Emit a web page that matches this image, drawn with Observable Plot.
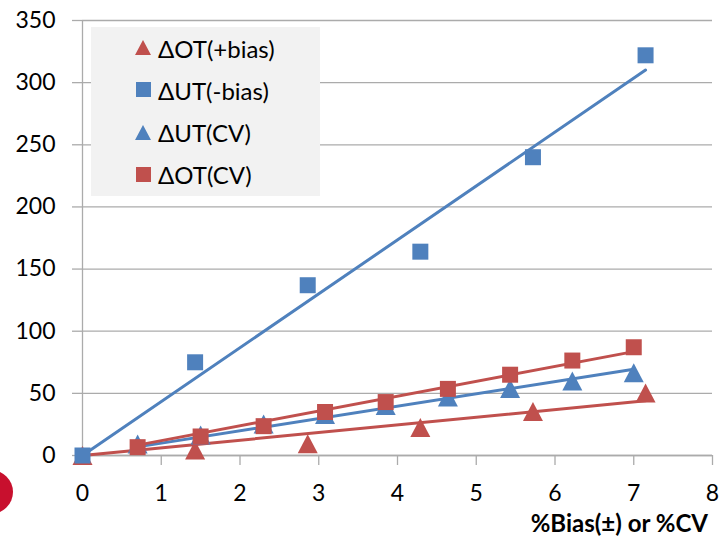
<!DOCTYPE html>
<html>
<head>
<meta charset="utf-8">
<script src="https://cdn.jsdelivr.net/npm/d3@7"></script>
<script src="https://cdn.jsdelivr.net/npm/@observablehq/plot@0.6"></script>
<style>
  html, body { margin: 0; padding: 0; background: #fff; }
  #wrap { position: relative; width: 719px; height: 541px; overflow: hidden; font-family: Lato, "Open Sans", sans-serif; color: #000; }
  #legend { position: absolute; left: 91px; top: 27px; width: 229px; height: 169px; background: #f2f2f2; }
  .row { position: absolute; left: 0; height: 30px; display: flex; align-items: center; }
  .row svg { position: absolute; left: 44px; }
  .row span { position: absolute; left: 67px; font-size: 24px; white-space: nowrap; }
  #xlabel { position: absolute; right: 11px; top: 511px; font-size: 24px; line-height: 1; font-weight: bold; white-space: nowrap; }
  #blob { position: absolute; left: -32px; top: 470px; width: 45px; height: 44px; border-radius: 50%; background: #c8102e; }
</style>
</head>
<body>
<div id="wrap"></div>
<script>
// ---- data ----
const seriesNames = ["ΔOT(+bias)", "ΔUT(-bias)", "ΔUT(CV)", "ΔOT(CV)"];
const seriesColors = ["#c0504d", "#4f81bd", "#4f81bd", "#c0504d"];
const seriesShapes = ["triangle", "square", "triangle", "square"];

const xBias = [0, 1.43, 2.86, 4.29, 5.72, 7.15];
const otBias = [0, 4.4, 9.4, 22.5, 35.5, 50.3];
const utBias = [0, 75, 137, 164, 240, 322];

const xUtCV = [0.7, 1.5, 2.3, 3.08, 3.85, 4.64, 5.43, 6.22, 7.0];
const utCV = [9.3, 16.5, 25.3, 33, 40.2, 47, 54, 60, 66.5];

const xOtCV = [0.7, 1.5, 2.3, 3.08, 3.85, 4.64, 5.43, 6.22, 7.0];
const otCV = [6.7, 15.3, 23.6, 35, 43, 53.6, 65, 76.4, 87.1];

const xTicks = [0, 1, 2, 3, 4, 5, 6, 7, 8];
const yTicks = [0, 50, 100, 150, 200, 250, 300, 350];
const xTitle = "%Bias(±) or %CV";

// ---- build table ----
const xs = [xBias, xBias, xUtCV, xOtCV];
const ys = [otBias, utBias, utCV, otCV];
const series = seriesNames.map((name, i) => ({
  name, color: seriesColors[i], shape: seriesShapes[i],
  points: xs[i].map((x, j) => ({x, y: ys[i][j], name}))
}));

// linear trendline through the origin (least squares)
function trend(points) {
  const sxy = d3.sum(points, p => p.x * p.y);
  const sxx = d3.sum(points, p => p.x * p.x);
  const k = sxy / sxx;
  const [x0, x1] = d3.extent(points, p => p.x);
  return [{x: x0, y: k * x0}, {x: x1, y: k * x1}];
}

// bbox-centred symbols (Excel style)
const tri = (w, h) => ({draw(ctx) { ctx.moveTo(0, -h / 2); ctx.lineTo(w / 2, h / 2); ctx.lineTo(-w / 2, h / 2); ctx.closePath(); }});
const sq = (s) => ({draw(ctx) { ctx.rect(-s / 2, -s / 2, s, s); }});
const symFor = shape => shape === "triangle" ? tri(20, 19) : sq(16);

const gridColor = "#ababab";

const plot = Plot.plot({
  width: 719,
  height: 541,
  marginLeft: 82,
  marginRight: 7,
  marginTop: 20,
  marginBottom: 86,
  style: {fontFamily: "Lato, 'Open Sans', sans-serif", fontSize: "23px", color: "#000", background: "#fff"},
  x: {domain: [0, 8]},
  y: {domain: [0, 350]},
  marks: [
    Plot.gridY(yTicks, {stroke: gridColor, strokeOpacity: 1, strokeWidth: 1.3}),
    Plot.axisY(yTicks, {tickSize: 10, tickPadding: 17, stroke: gridColor, strokeWidth: 1.3, fontSize: 23, label: null}),
    Plot.axisX(xTicks, {tickSize: 10, tickPadding: 19, stroke: gridColor, strokeWidth: 1.3, fontSize: 23, label: null}),
    Plot.ruleX([0], {stroke: gridColor, strokeWidth: 1.3}),
    Plot.ruleY([0], {stroke: gridColor, strokeWidth: 1.3}),
    ...series.map(s => Plot.line(trend(s.points), {x: "x", y: "y", stroke: s.color, strokeWidth: 3})),
    ...series.map(s => Plot.dot(s.points, {x: "x", y: "y", fill: s.color, stroke: "none", symbol: symFor(s.shape), r: 8}))
  ]
});

const wrap = document.getElementById("wrap");
wrap.appendChild(plot);

// legend
const legend = document.createElement("div");
legend.id = "legend";
series.forEach((s, i) => {
  const row = document.createElement("div");
  row.className = "row";
  row.style.top = (6 + i * 42.3) + "px";
  const shape = s.shape === "triangle"
    ? `<polygon points="8,0 16,15 0,15" fill="${s.color}"/>`
    : `<rect x="1" y="0" width="15" height="15" fill="${s.color}"/>`;
  row.innerHTML = `<svg width="17" height="16" style="top:7px">${shape}</svg><span>${s.name}</span>`;
  legend.appendChild(row);
});
wrap.appendChild(legend);

const xl = document.createElement("div");
xl.id = "xlabel";
xl.textContent = xTitle;
wrap.appendChild(xl);

const blob = document.createElement("div");
blob.id = "blob";
wrap.appendChild(blob);
</script>
</body>
</html>
